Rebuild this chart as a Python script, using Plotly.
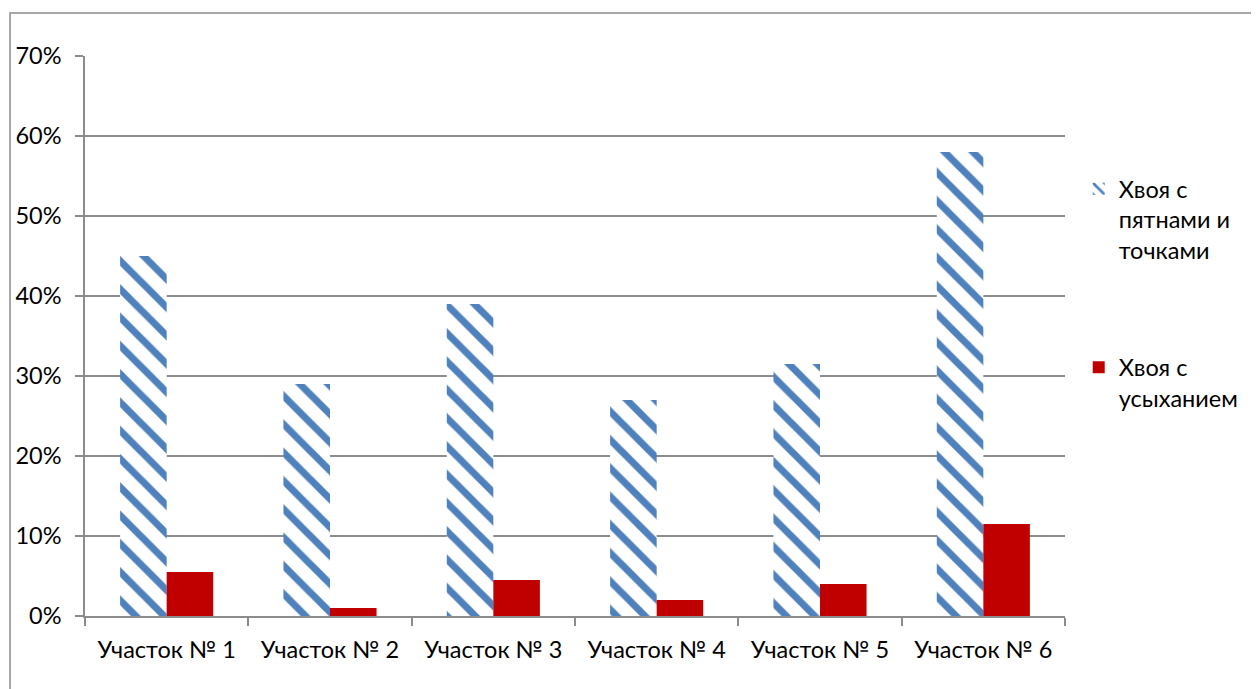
import plotly.graph_objects as go

categories = ["Участок № 1", "Участок № 2", "Участок № 3", "Участок № 4", "Участок № 5", "Участок № 6"]
spots = [0.45, 0.29, 0.39, 0.27, 0.315, 0.58]
drying = [0.055, 0.01, 0.045, 0.02, 0.04, 0.115]
series_names = ["Хвоя с<br>пятнами и<br>точками", "Хвоя с<br>усыханием"]
y_ticks = [0, 0.1, 0.2, 0.3, 0.4, 0.5, 0.6, 0.7]

FONT = "Lato"
FS = 23.5
GRID = "#8c8c8c"

fig = go.Figure()
fig.add_trace(go.Bar(
    x=categories, y=spots, name=series_names[0],
    marker=dict(color="white", line=dict(width=0),
                pattern=dict(shape="\\", fgcolor="#4F81BD", bgcolor="white",
                             size=20, solidity=0.35, fillmode="replace")),
    legendgroup="a",
))
fig.add_trace(go.Bar(
    x=categories, y=drying, name=series_names[1],
    marker=dict(color="#C00000", line=dict(width=0)),
    legendgroup="b",
))

fig.update_layout(
    width=1259, height=689,
    margin=dict(l=77, r=202, t=48, b=81, autoexpand=False),
    paper_bgcolor="white", plot_bgcolor="white",
    barmode="group", bargap=0.43, bargroupgap=0,
    font=dict(family=FONT, size=FS, color="black"),
    showlegend=True,
    legend=dict(x=1.014, y=0.802, xanchor="left", yanchor="top",
                valign="top", tracegroupgap=84,
                font=dict(family=FONT, size=FS, color="black"),
                itemwidth=30),
    xaxis=dict(showline=True, linecolor=GRID, linewidth=1.5,
               ticks="outside", tickson="boundaries", ticklen=8, tickcolor=GRID, tickwidth=1.5,
               ticklabelstandoff=12, automargin=False,
               tickfont=dict(family=FONT, size=FS), showgrid=False),
    yaxis=dict(range=[0, 0.7], tickvals=y_ticks, tickformat=".0%",
               showline=True, linecolor=GRID, linewidth=1.5,
               showgrid=True, gridcolor=GRID, gridwidth=1.5,
               ticks="outside", ticklen=8, tickcolor=GRID, tickwidth=1.5,
               ticklabelstandoff=9, automargin=False,
               tickfont=dict(family=FONT, size=FS), zeroline=False),
    shapes=[dict(type="rect", xref="paper", yref="paper",
                 x0=-0.0765, x1=1.3, y0=-0.3, y1=1.0768,
                 line=dict(color=GRID, width=1.5), fillcolor="rgba(0,0,0,0)", layer="below")],
)

fig.write_html("out.html")
